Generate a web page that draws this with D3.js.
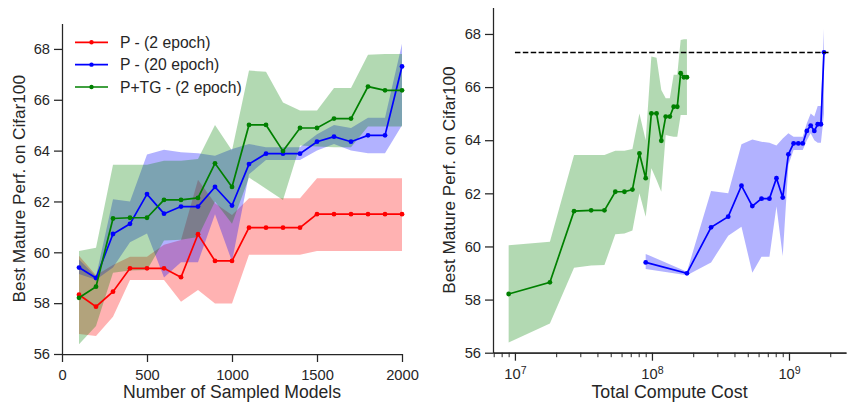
<!DOCTYPE html>
<html>
<head>
<meta charset="utf-8">
<script src="https://cdn.jsdelivr.net/npm/d3@7"></script>
<style>
  body { margin: 0; background: #fff; }
  text { font-family: "Liberation Sans", Arial, sans-serif; fill: #262626; }
</style>
</head>
<body>
<div id="chart"></div>
<script>
// ---- data ----
const models = [100, 200, 300, 400, 500, 600, 700, 800, 900, 1000,
                1100, 1200, 1300, 1400, 1500, 1600, 1700, 1800, 1900, 2000];

// compute cost per point (right panel)
const pTGCost = [9e6, 1.8e7, 2.7e7, 3.6e7, 4.5e7, 5.4e7, 6.3e7, 7.2e7, 8.1e7, 9e7,
                 9.9e7, 1.08e8, 1.17e8, 1.26e8, 1.35e8, 1.44e8, 1.53e8, 1.62e8, 1.71e8, 1.8e8];
const p20Cost = [9e7, 1.8e8, 2.7e8, 3.6e8, 4.5e8, 5.4e8, 6.3e8, 7.2e8, 8.1e8, 9e8,
                 9.9e8, 1.08e9, 1.17e9, 1.26e9, 1.35e9, 1.44e9, 1.53e9, 1.62e9, 1.71e9, 1.8e9];

// P - (2 epoch)
const p2Mean = [58.33, 57.86, 58.45, 59.37, 59.37, 59.37, 59.02, 60.71, 59.66, 59.66,
                60.97, 60.97, 60.97, 60.97, 61.50, 61.50, 61.50, 61.50, 61.50, 61.50];
const p2Low  = [56.79, 56.71, 57.47, 58.91, 58.91, 58.91, 58.06, 58.52, 57.99, 57.99,
                59.90, 59.90, 59.90, 59.90, 60.05, 60.05, 60.05, 60.05, 60.05, 60.05];
const p2High = [59.86, 59.10, 59.50, 59.83, 59.83, 60.30, 60.48, 62.85, 61.93, 61.47,
                62.13, 62.13, 62.13, 62.13, 62.91, 62.91, 62.91, 62.91, 62.91, 62.91];

// P - (20 epoch)
const p20Mean = [59.40, 58.99, 60.72, 61.12, 62.29, 61.52, 61.80, 61.80, 62.57, 61.84,
                 63.47, 63.88, 63.88, 63.88, 64.35, 64.55, 64.35, 64.60, 64.60, 67.31];
const p20Low  = [59.15, 58.92, 59.40, 60.40, 60.74, 59.01, 59.61, 59.61, 61.50, 59.64,
                 63.07, 63.63, 63.63, 63.63, 64.00, 64.26, 64.00, 63.90, 63.90, 65.00];
const p20High = [59.72, 59.05, 62.09, 62.00, 63.85, 64.03, 63.94, 63.90, 63.80, 64.06,
                 64.26, 64.13, 64.13, 64.13, 64.64, 65.01, 64.89, 65.29, 65.29, 68.20];

// P+TG - (2 epoch)
const pTGMean = [58.21, 58.65, 61.33, 61.36, 61.36, 62.06, 62.06, 62.14, 63.50, 62.57,
                 65.01, 65.01, 63.98, 64.89, 64.89, 65.26, 65.26, 66.52, 66.37, 66.37];
const pTGLow  = [56.38, 57.10, 59.20, 59.28, 59.30, 60.46, 60.49, 60.60, 62.00, 61.12,
                 62.94, 62.50, 62.06, 64.20, 64.16, 64.13, 64.13, 64.95, 64.95, 64.95];
const pTGHigh = [60.05, 60.18, 63.44, 63.44, 63.44, 63.60, 63.60, 63.67, 65.01, 64.00,
                 67.15, 67.10, 65.89, 65.58, 65.58, 66.46, 66.46, 67.77, 67.80, 67.80];

const bestFull = 67.3;           // dashed reference line
const dashFrom = 1e7, dashTo = 2e9;

const yTicks = [56, 58, 60, 62, 64, 66, 68];
const xTicksLeft = [0, 500, 1000, 1500, 2000];
const majorCost = [1e7, 1e8, 1e9];
const minorCost = [7e6, 8e6, 9e6, 2e7, 3e7, 4e7, 5e7, 6e7, 7e7, 8e7, 9e7,
                   2e8, 3e8, 4e8, 5e8, 6e8, 7e8, 8e8, 9e8, 2e9];

const FONT = '"Liberation Sans", Arial, sans-serif';
const INK = "#262626";

const svg = d3.select("#chart").append("svg")
  .attr("width", 847)
  .attr("height", 402);

// scales
const xL = d3.scaleLinear().domain([0, 2000]).range([62, 402]);
const yL = d3.scaleLinear().domain([56, 69]).range([354, 23.5]);
const xR = d3.scaleLog().domain([Math.pow(10, 6.84), Math.pow(10, 9.416)]).range([493, 846]);
const yR = d3.scaleLinear().domain([56, 69]).range([352.7, 7.4]);

function styleAxis(g) {
  g.attr("font-family", FONT).attr("font-size", 14.7);
  g.select(".domain").attr("stroke", INK).attr("stroke-width", 1.25);
  g.selectAll(".tick line").attr("stroke", INK).attr("stroke-width", 1.25);
  g.selectAll(".tick text").attr("fill", INK);
}

function series(xs, mean, low, high, xScale, yScale, color) {
  const rows = xs.map((x, i) => ({x: x, m: mean[i], lo: low[i], hi: high[i]}));
  const area = d3.area()
    .x(d => xScale(d.x))
    .y0(d => yScale(d.lo))
    .y1(d => yScale(d.hi));
  const line = d3.line()
    .x(d => xScale(d.x))
    .y(d => yScale(d.m));
  return {rows, area, line, color};
}

function drawPanel(list) {
  // bands first, then lines on top
  list.forEach(s => {
    svg.append("path").datum(s.rows)
      .attr("d", s.area)
      .attr("fill", s.color)
      .attr("fill-opacity", 0.3)
      .attr("stroke", "none");
  });
  list.forEach(s => {
    svg.append("path").datum(s.rows)
      .attr("d", s.line)
      .attr("fill", "none")
      .attr("stroke", s.color)
      .attr("stroke-width", 1.7);
    svg.append("g").selectAll("circle")
      .data(s.rows)
      .enter().append("circle")
      .attr("cx", d => s.line.x()(d))
      .attr("cy", d => s.line.y()(d))
      .attr("r", 2.4)
      .attr("fill", s.color);
  });
}

// ---- left panel ----
const leftSeries = [
  series(models, p2Mean, p2Low, p2High, xL, yL, "#ff0000"),
  series(models, p20Mean, p20Low, p20High, xL, yL, "#0000ff"),
  series(models, pTGMean, pTGLow, pTGHigh, xL, yL, "#008000")
];
drawPanel(leftSeries);

svg.append("g")
  .attr("transform", "translate(0,354)")
  .call(d3.axisBottom(xL).tickValues(xTicksLeft).tickFormat(d3.format("d"))
          .tickSize(8).tickSizeOuter(0).tickPadding(8))
  .call(styleAxis);

svg.append("g")
  .attr("transform", "translate(62,0)")
  .call(d3.axisLeft(yL).tickValues(yTicks).tickSize(8).tickSizeOuter(0).tickPadding(4))
  .call(styleAxis);

// legend
const legendItems = [
  {label: "P - (2 epoch)", color: "#ff0000"},
  {label: "P - (20 epoch)", color: "#0000ff"},
  {label: "P+TG - (2 epoch)", color: "#008000"}
];
const legend = svg.append("g");
legendItems.forEach((d, i) => {
  const ly = 42.3 + i * 22.35;
  legend.append("line")
    .attr("x1", 75).attr("x2", 108)
    .attr("y1", ly).attr("y2", ly)
    .attr("stroke", d.color).attr("stroke-width", 1.7);
  legend.append("circle")
    .attr("cx", 91.5).attr("cy", ly).attr("r", 2.2)
    .attr("fill", d.color);
  legend.append("text")
    .attr("x", 120).attr("y", ly).attr("dy", "0.36em")
    .attr("font-size", 15.7)
    .text(d.label);
});

// axis titles
svg.append("text")
  .attr("text-anchor", "middle")
  .attr("x", 232).attr("y", 398)
  .attr("font-size", 17.6)
  .text("Number of Sampled Models");

svg.append("text")
  .attr("text-anchor", "middle")
  .attr("transform", "translate(25," + 188.7 + ")rotate(-90)")
  .attr("font-size", 17.2)
  .text("Best Mature Perf. on Cifar100");

// ---- right panel ----
const rightSeries = [
  series(p20Cost, p20Mean, p20Low, p20High, xR, yR, "#0000ff"),
  series(pTGCost, pTGMean, pTGLow, pTGHigh, xR, yR, "#008000")
];
drawPanel(rightSeries);

svg.append("line")
  .attr("x1", xR(dashFrom)).attr("x2", xR(dashTo))
  .attr("y1", yR(bestFull)).attr("y2", yR(bestFull))
  .attr("stroke", "#000")
  .attr("stroke-width", 1.5)
  .attr("stroke-dasharray", "5.5,2.4");

// minor ticks on the log axis
svg.append("g")
  .attr("transform", "translate(0,352.7)")
  .call(d3.axisBottom(xR).tickValues(minorCost).tickSize(4.5).tickSizeOuter(0).tickFormat(""))
  .call(styleAxis)
  .call(g => g.selectAll(".tick line").attr("stroke-width", 1));

const gxR = svg.append("g")
  .attr("transform", "translate(0,352.7)")
  .call(d3.axisBottom(xR).tickValues(majorCost).tickSize(8).tickSizeOuter(0).tickPadding(8)
          .tickFormat(""))
  .call(styleAxis);

gxR.selectAll(".tick text")
  .each(function(d) {
    const t = d3.select(this);
    t.append("tspan").text("10");
    t.append("tspan")
      .attr("dy", "-0.48em")
      .attr("font-size", "0.72em")
      .text(Math.round(Math.log10(d)));
  });

svg.append("g")
  .attr("transform", "translate(493,0)")
  .call(d3.axisLeft(yR).tickValues(yTicks).tickSize(8).tickSizeOuter(0).tickPadding(4))
  .call(styleAxis);

svg.append("text")
  .attr("text-anchor", "middle")
  .attr("x", 669.5).attr("y", 398)
  .attr("font-size", 17.8)
  .text("Total Compute Cost");

svg.append("text")
  .attr("text-anchor", "middle")
  .attr("transform", "translate(455," + 180 + ")rotate(-90)")
  .attr("font-size", 17.2)
  .text("Best Mature Perf. on Cifar100");
</script>
</body>
</html>
